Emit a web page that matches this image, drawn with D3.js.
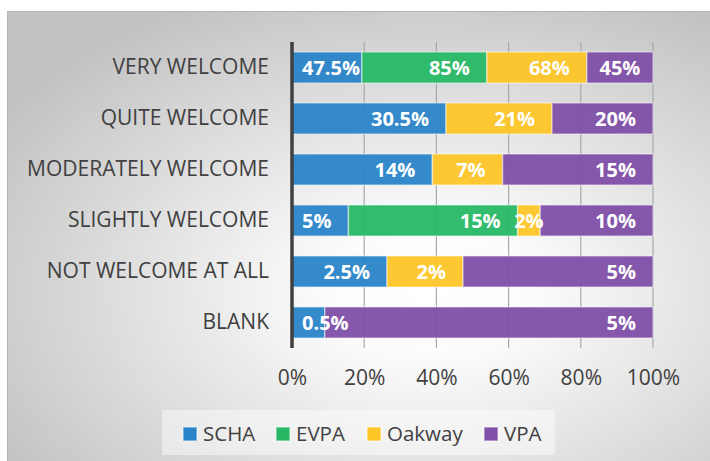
<!DOCTYPE html>
<html>
<head>
<meta charset="utf-8">
<script src="https://cdn.jsdelivr.net/npm/d3@7"></script>
<style>
  body { margin: 0; background: #fff; }
  svg { display: block; font-family: "Open Sans", sans-serif; }
</style>
</head>
<body>
<svg id="chart" width="710" height="461"></svg>
<script>
// data
var categories = ["VERY WELCOME", "QUITE WELCOME", "MODERATELY WELCOME",
                  "SLIGHTLY WELCOME", "NOT WELCOME AT ALL", "BLANK"];
var seriesNames = ["SCHA", "EVPA", "Oakway", "VPA"];
var scha   = [47.5, 30.5, 14, 5, 2.5, 0.5];
var evpa   = [85, 0, 0, 15, 0, 0];
var oakway = [68, 21, 7, 2, 2, 0];
var vpa    = [45, 20, 15, 10, 5, 5];
var colors = ["#2a84c8", "#27b866", "#fdc526", "#804fa8"];
var xTicks = [0, 0.2, 0.4, 0.6, 0.8, 1];

var svg = d3.select("#chart");
var W = 710, H = 461;

// background panel with radial gradient
var defs = svg.append("defs");
var grad = defs.append("radialGradient").attr("id", "bg")
    .attr("cx", "0.6").attr("cy", "0.62").attr("r", "0.72");
grad.append("stop").attr("offset", "0").attr("stop-color", "#ffffff");
grad.append("stop").attr("offset", "0.2").attr("stop-color", "#fcfcfc");
grad.append("stop").attr("offset", "1").attr("stop-color", "#c2c2c2");

svg.append("rect").attr("x", 7).attr("y", 11)
    .attr("width", W - 7).attr("height", H - 11)
    .attr("fill", "url(#bg)");
svg.append("path").attr("d", "M7.5," + H + "V11.5H" + W)
    .attr("fill", "none").attr("stroke", "#b5b5b5").attr("stroke-width", 1);

// rows of the stacked table
var rows = categories.map(function(c, i) {
  var vals = [scha[i], evpa[i], oakway[i], vpa[i]];
  var total = d3.sum(vals);
  var r = { cat: c, total: total };
  seriesNames.forEach(function(s, j) { r[s] = vals[j]; });
  return r;
});

var stack = d3.stack().keys(seriesNames)
    .value(function(d, k) { return d[k] / d.total; });
var layers = stack(rows);

var x = d3.scaleLinear().domain([0, 1]).range([292, 653]);
var y = d3.scaleBand().domain(categories).range([42, 348])
    .paddingInner(0.39).paddingOuter(0.195);

// grid
svg.append("g").selectAll("line").data(xTicks.slice(1)).join("line")
    .attr("x1", function(d) { return x(d); }).attr("x2", function(d) { return x(d); })
    .attr("y1", 42).attr("y2", 348)
    .attr("stroke", "#a9a9a9").attr("stroke-width", 1.2);

// bars
var g = svg.append("g");
layers.forEach(function(layer, j) {
  g.append("g").selectAll("rect").data(layer.filter(function(d) { return d[1] > d[0]; }))
    .join("rect")
      .attr("x", function(d) { return x(d[0]); })
      .attr("y", function(d) { return y(d.data.cat); })
      .attr("width", function(d) { return x(d[1]) - x(d[0]); })
      .attr("height", y.bandwidth())
      .attr("fill", colors[j]).attr("fill-opacity", 0.95)
      .attr("stroke", "#ffffff").attr("stroke-opacity", 0.45).attr("stroke-width", 1.5);
});

// data labels, inside end like excel
var labels = svg.append("g").attr("font-weight", "bold").attr("font-size", 20).attr("fill", "#fff");
layers.forEach(function(layer, j) {
  layer.forEach(function(d) {
    var v = d.data[seriesNames[j]];
    if (!v) return;
    var x0 = x(d[0]), x1 = x(d[1]);
    var t = labels.append("text").text(v + "%")
        .attr("y", y(d.data.cat) + y.bandwidth() / 2).attr("dy", "0.35em");
    var w = t.node().getComputedTextLength();
    var left;
    if (x1 - x0 >= w + 26) left = x1 - 17 - w;
    else left = (x0 + x1) / 2 - w / 2;
    left = Math.max(left, x(0) + 10);
    t.attr("x", left);
  });
});

// axis line at 0
svg.append("line").attr("x1", x(0)).attr("x2", x(0)).attr("y1", 42).attr("y2", 348)
    .attr("stroke", "#404040").attr("stroke-width", 3.5);

// x axis labels
var xAxis = svg.append("g").attr("transform", "translate(0,370)")
    .call(d3.axisBottom(x).tickValues(xTicks).tickSize(0).tickPadding(0)
      .tickFormat(d3.format(".0%")));
xAxis.select(".domain").remove();
xAxis.selectAll("text").attr("font-size", 21).attr("fill", "#404040")
    .attr("font-family", "Open Sans");

// category labels
var yAxis = svg.append("g").attr("transform", "translate(" + x(0) + ",0)")
    .call(d3.axisLeft(y).tickSize(0).tickPadding(23));
yAxis.select(".domain").remove();
yAxis.selectAll("text").attr("font-size", 21).attr("fill", "#404040")
    .attr("font-family", "Open Sans");

// legend
svg.append("rect").attr("x", 162).attr("y", 410).attr("width", 393).attr("height", 45)
    .attr("fill", "#ffffff").attr("fill-opacity", 0.45);
var legendX = [183, 276, 367, 484];
var lg = svg.append("g").selectAll("g").data(seriesNames).join("g")
    .attr("transform", function(d, i) { return "translate(" + legendX[i] + ",427)"; });
lg.append("rect").attr("width", 14).attr("height", 14)
    .attr("fill", function(d, i) { return colors[i]; })
    .attr("stroke", "#fff").attr("stroke-opacity", 0.5).attr("stroke-width", 1.5);
lg.append("text").attr("x", 20).attr("y", 7).attr("dy", "0.35em")
    .attr("font-size", 20.5).attr("fill", "#404040")
    .text(function(d) { return d; });
</script>
</body>
</html>
